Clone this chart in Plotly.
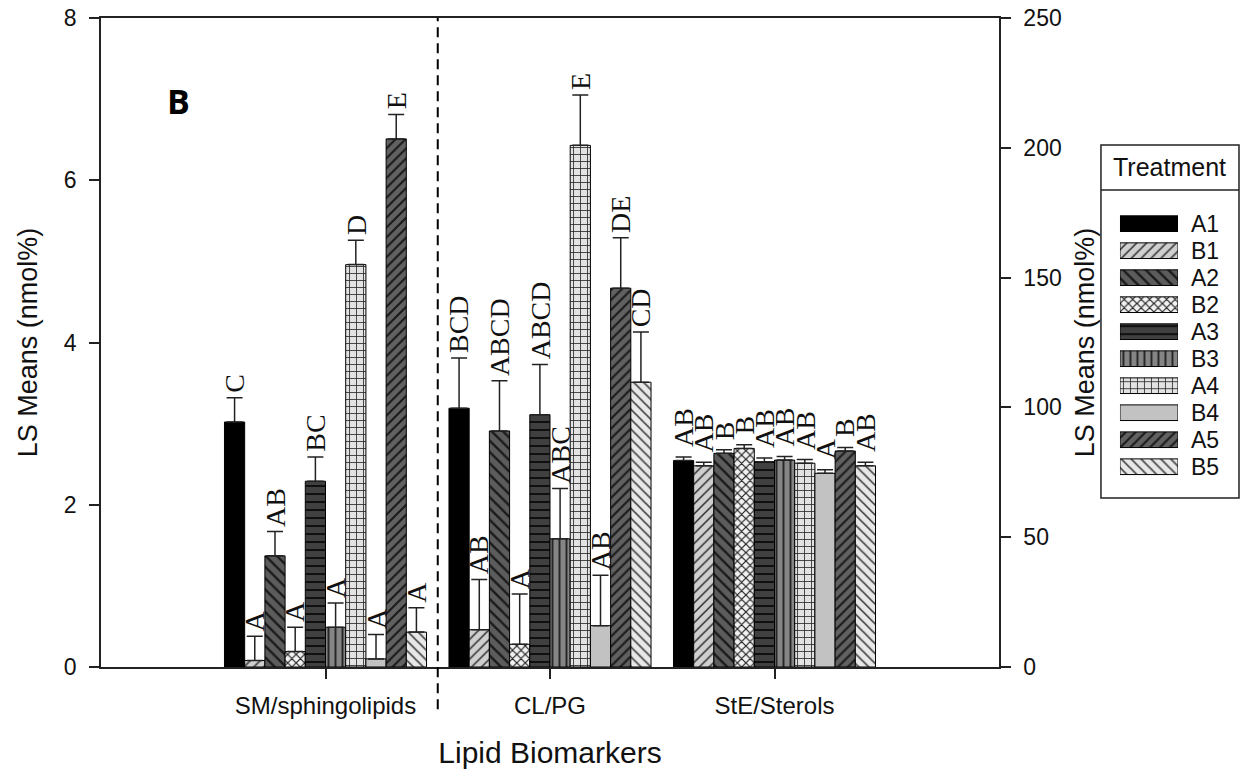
import plotly.graph_objects as go

# Treatments and lipid biomarker groups
treatments = ["A1", "B1", "A2", "B2", "A3", "B3", "A4", "B4", "A5", "B5"]
categories = ["SM/sphingolipids", "CL/PG", "StE/Sterols"]

# LS means (nmol%) and standard errors, SM and CL/PG on left axis
sm_means = [3.02, 0.08, 1.37, 0.19, 2.29, 0.49, 4.96, 0.10, 6.51, 0.43]
sm_errs = [0.30, 0.30, 0.30, 0.30, 0.30, 0.30, 0.30, 0.30, 0.30, 0.30]
sm_letters = ["C", "A", "AB", "A", "BC", "A", "D", "A", "E", "A"]

cl_means = [3.19, 0.46, 2.91, 0.28, 3.11, 1.58, 6.43, 0.51, 4.67, 3.51]
cl_errs = [0.62, 0.62, 0.62, 0.62, 0.62, 0.62, 0.62, 0.62, 0.62, 0.62]
cl_letters = ["BCD", "AB", "ABCD", "A", "ABCD", "ABC", "E", "AB", "DE", "CD"]

# StE/Sterols on right axis
ste_means = [79.5, 77.5, 82.3, 84.2, 79.1, 79.7, 78.5, 74.6, 83.2, 77.5]
ste_errs = [1.4, 1.4, 1.4, 1.4, 1.4, 1.4, 1.4, 1.4, 1.4, 1.4]
ste_letters = ["AB", "AB", "B", "B", "AB", "AB", "AB", "A", "B", "AB"]

left_ticks = [0, 2, 4, 6, 8]
right_ticks = [0, 50, 100, 150, 200, 250]

# Fill style per treatment: (base colour, pattern shape, pattern colour, size, solidity)
styles = {
    "A1": ("#000000", "", "#000000", 8, 0.3),
    "B1": ("#cfcfcf", "/", "#2e2e2e", 7, 0.22),
    "A2": ("#5c5c5c", "\\", "#1a1a1a", 8, 0.3),
    "B2": ("#f2f2f2", "x", "#1e1e1e", 6, 0.35),
    "A3": ("#404040", "-", "#101010", 8, 0.25),
    "B3": ("#858585", "|", "#262626", 7, 0.28),
    "A4": ("#e2e2e2", "+", "#262626", 7, 0.22),
    "B4": ("#c2c2c2", "", "#c2c2c2", 8, 0.3),
    "A5": ("#616161", "/", "#1a1a1a", 7, 0.3),
    "B5": ("#e8e8e8", "\\", "#333333", 7, 0.22),
}

BAR_W = 0.09
offsets = [-0.45 + i * BAR_W for i in range(len(treatments))]

SERIF = "Liberation Serif, Times New Roman, serif"
SANS = "Liberation Sans, Arial, sans-serif"


def marker_for(t):
    base, shape, fg, size, sol = styles[t]
    m = dict(color=base, line=dict(color="#000000", width=1))
    if shape:
        m["pattern"] = dict(shape=shape, fgcolor=fg, bgcolor=base, size=size,
                            solidity=sol, fillmode="replace")
    return m


err_style = dict(type="data", symmetric=False, color="#222222", thickness=1.5, width=8)

fig = go.Figure()
annotations = []

for i, t in enumerate(treatments):
    # SM and CL/PG on the left axis
    fig.add_trace(go.Bar(
        x=[1, 2], y=[sm_means[i], cl_means[i]],
        width=BAR_W, offset=offsets[i],
        marker=marker_for(t),
        error_y=dict(array=[sm_errs[i], cl_errs[i]], arrayminus=[0, 0], **err_style),
        xaxis="x", yaxis="y", showlegend=False, name=t,
    ))
    # StE/Sterols on the right axis
    fig.add_trace(go.Bar(
        x=[3], y=[ste_means[i]],
        width=BAR_W, offset=offsets[i],
        marker=marker_for(t),
        error_y=dict(array=[ste_errs[i]], arrayminus=[0], **err_style),
        xaxis="x", yaxis="y2", showlegend=False, name=t,
    ))
    cx = offsets[i] + BAR_W / 2
    for xc, mean, err, letter, yref, shift in [
        (1, sm_means[i], sm_errs[i], sm_letters[i], "y", 3),
        (2, cl_means[i], cl_errs[i], cl_letters[i], "y", 3),
        (3, ste_means[i], ste_errs[i], ste_letters[i], "y2", 8),
    ]:
        annotations.append(dict(
            x=xc + cx, y=mean + err, xref="x", yref=yref,
            text=letter, textangle=-90, showarrow=False,
            xanchor="center", yanchor="bottom", yshift=shift,
            font=dict(family=SERIF, size=28, color="#111111"),
        ))

    # Legend swatch for this treatment
    fig.add_trace(go.Bar(
        x=[1], y=[t], orientation="h", width=0.58,
        marker=marker_for(t),
        xaxis="x3", yaxis="y3", showlegend=False, hoverinfo="skip",
    ))

# Legend frame and header
LEG_X0, LEG_X1 = 0.8787, 1.0
LEG_TOP, LEG_LINE, LEG_BOT = 0.8043, 0.7350, 0.2604
shapes = [
    dict(type="rect", xref="paper", yref="paper", x0=LEG_X0, x1=LEG_X1,
         y0=LEG_BOT, y1=LEG_TOP, line=dict(color="#222222", width=1.5)),
    dict(type="line", xref="paper", yref="paper", x0=LEG_X0, x1=LEG_X1,
         y0=LEG_LINE, y1=LEG_LINE, line=dict(color="#222222", width=1.5)),
    # dashed separator between SM and CL/PG groups
    dict(type="line", xref="x", yref="paper", x0=1.5, x1=1.5, y0=-0.065, y1=1,
         line=dict(color="#000000", width=2, dash="10px,6px")),
]
annotations.append(dict(
    x=(LEG_X0 + LEG_X1) / 2, y=(LEG_TOP + LEG_LINE) / 2, xref="paper", yref="paper",
    text="Treatment", showarrow=False, xanchor="center", yanchor="middle",
    font=dict(family=SANS, size=25, color="#111111"),
))
annotations.append(dict(
    x=0.0677, y=0.8721, xref="paper", yref="paper", text="<b>B</b>",
    showarrow=False, xanchor="center", yanchor="middle",
    font=dict(family="Open Sans, Noto Sans, sans-serif", size=34, color="#000000"),
))

axis_line = dict(showline=True, linecolor="#222222", linewidth=1.5, showgrid=False,
                 zeroline=False, ticks="outside", tickcolor="#222222", tickwidth=1.5)

fig.update_layout(
    width=1241, height=778,
    margin=dict(l=101, r=2, t=18, b=111),
    paper_bgcolor="white", plot_bgcolor="white",
    barmode="overlay",
    showlegend=False,
    shapes=shapes,
    annotations=annotations,
    xaxis=dict(
        domain=[0, 0.7891], range=[0, 4], tickvals=[1, 2, 3], ticktext=categories,
        ticklen=10, mirror=True, ticklabelstandoff=6,
        tickfont=dict(family=SANS, size=24, color="#111111"),
        title=dict(text="Lipid Biomarkers", standoff=24,
                   font=dict(family=SANS, size=30, color="#111111")),
        **axis_line,
    ),
    yaxis=dict(
        range=[0, 8], tickvals=left_ticks, ticklen=10, ticklabelstandoff=8,
        tickfont=dict(family=SANS, size=23, color="#111111"),
        title=dict(text="LS Means (nmol%)", standoff=18,
                   font=dict(family=SANS, size=27, color="#111111")),
        **axis_line,
    ),
    yaxis2=dict(
        range=[0, 250], tickvals=right_ticks, overlaying="y", side="right", anchor="x",
        ticklen=10, ticklabelstandoff=8,
        tickfont=dict(family=SANS, size=23, color="#111111"),
        title=dict(text="LS Means (nmol%)", standoff=14,
                   font=dict(family=SANS, size=27, color="#111111")),
        **axis_line,
    ),
    xaxis3=dict(domain=[0.8954, 0.9464], range=[0, 1], anchor="y3", visible=False,
                fixedrange=True),
    yaxis3=dict(domain=[0.2878, 0.7039], anchor="x3", side="right",
                categoryorder="array", categoryarray=treatments, autorange="reversed",
                tickmode="array", tickvals=treatments, ticktext=treatments,
                showline=False, showgrid=False, zeroline=False, ticks="",
                ticklabelstandoff=12,
                tickfont=dict(family=SANS, size=23, color="#111111"),
                fixedrange=True),
)

fig.write_html("out.html")
